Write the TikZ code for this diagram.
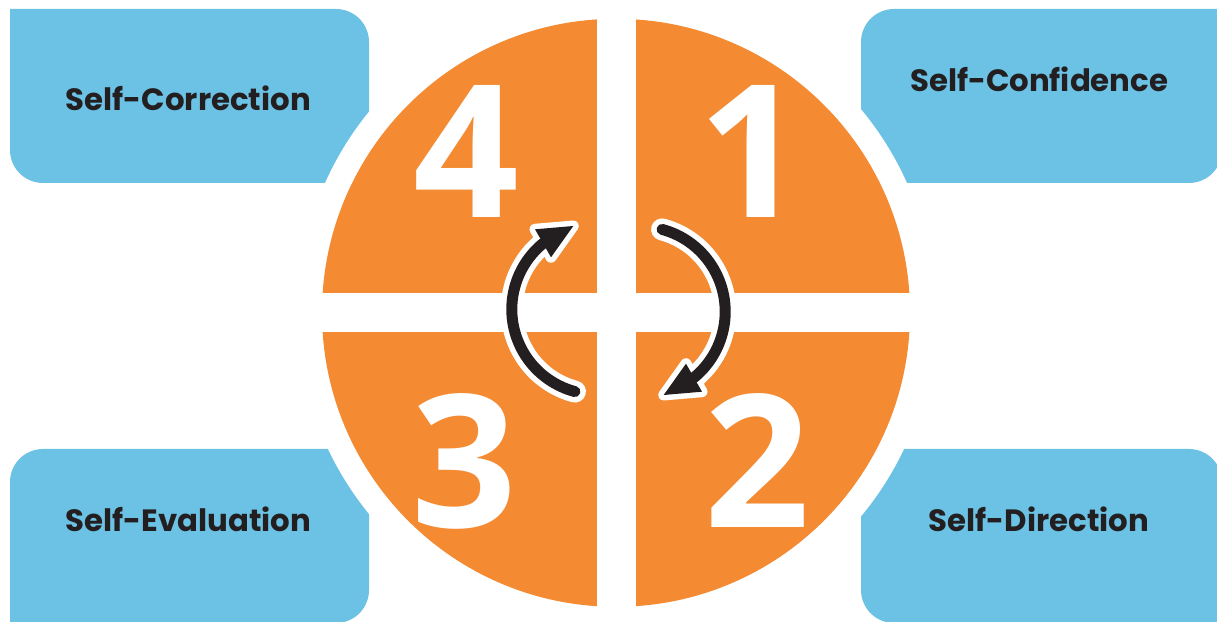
\documentclass[tikz,border=0pt]{standalone}
\usepackage{fontspec}
\newfontfamily\lblfont{Poppins}
\newfontfamily\numfont{Open Sans}
\definecolor{boxblue}{HTML}{6CC2E4}
\definecolor{quadorange}{HTML}{F48A31}
\definecolor{inkdark}{HTML}{231F20}
\begin{document}
\begin{tikzpicture}[x=1pt,y=1pt,
  box/.style={fill=boxblue},
  lbl/.style={font=\lblfont\bfseries\fontsize{30.8}{34}\selectfont, text=inkdark, anchor=base, inner sep=0pt},
  num/.style={font=\numfont\bfseries\fontsize{185}{185}\selectfont, text=white, anchor=base, inner sep=0pt},
  shaftout/.style={white, line width=22pt, line cap=round},
  shaft/.style={inkdark, line width=11pt, line cap=round},
  headout/.style={fill=white, draw=white, line width=11pt, line join=round},
  headin/.style={fill=inkdark}]
\clip (0,0) rectangle (1217,621);
\fill[white] (0,0) rectangle (1217,621);
% boxes
\fill[box] (10,612) -- (336,612) arc[start angle=90,end angle=0,radius=33] -- (369,438) -- (43,438) arc[start angle=270,end angle=180,radius=33] -- cycle;
\fill[box] (1222,612) -- (894,612) arc[start angle=90,end angle=180,radius=33] -- (861,438) -- (1189,438) arc[start angle=270,end angle=360,radius=33] -- cycle;
\fill[box] (10,-2) -- (10,139) arc[start angle=180,end angle=90,radius=33] -- (369,172) -- (369,31) arc[start angle=0,end angle=-90,radius=33] -- cycle;
\fill[box] (1222,-2) -- (1222,139) arc[start angle=0,end angle=90,radius=33] -- (861,172) -- (861,31) arc[start angle=180,end angle=270,radius=33] -- cycle;
% circle
\coordinate (c) at (616,308.2);
\fill[white] (c) circle[radius=318.5];
\fill[quadorange] (c) circle[radius=294];
\fill[white] (596.5,0) rectangle (635.5,621);
\fill[white] (300,288.6) rectangle (935,327.7);
% numbers
\node[num] (n4) at (466.2,403.6) {4};
\node[num] (n1) at (750.8,403.6) {1};
\node[num] (n3) at (464,93.3) {3};
\node[num] (n2) at (757.7,93.3) {2};
% arrows
\coordinate (lc) at (597,311.7);
\coordinate (rc) at (640,309.3);
\draw[shaftout] ([shift={(255:85.2)}]lc) arc[start angle=255,end angle=129.3,radius=85.2];
\draw[shaftout] ([shift={(75:85.2)}]rc) arc[start angle=75,end angle=-50.7,radius=85.2];
\filldraw[headout] (573.3,395) -- (535,391.7) -- (551,363.7) -- cycle;
\filldraw[headout] (663.7,226) -- (702,229.3) -- (686,257.3) -- cycle;
\draw[shaft] ([shift={(255:85.2)}]lc) arc[start angle=255,end angle=129.3,radius=85.2];
\draw[shaft] ([shift={(75:85.2)}]rc) arc[start angle=75,end angle=-50.7,radius=85.2];
\fill[headin] (573.3,395) -- (535,391.7) -- (551,363.7) -- cycle;
\fill[headin] (663.7,226) -- (702,229.3) -- (686,257.3) -- cycle;
% labels
\node[lbl] (t4) at (188.3,510) {Self-Correction};
\node[lbl] (t1) at (1039.2,529.3) {Self-Confidence};
\node[lbl] (t3) at (188.3,89) {Self-Evaluation};
\node[lbl] (t2) at (1038.9,89) {Self-Direction};
\end{tikzpicture}
\end{document}
